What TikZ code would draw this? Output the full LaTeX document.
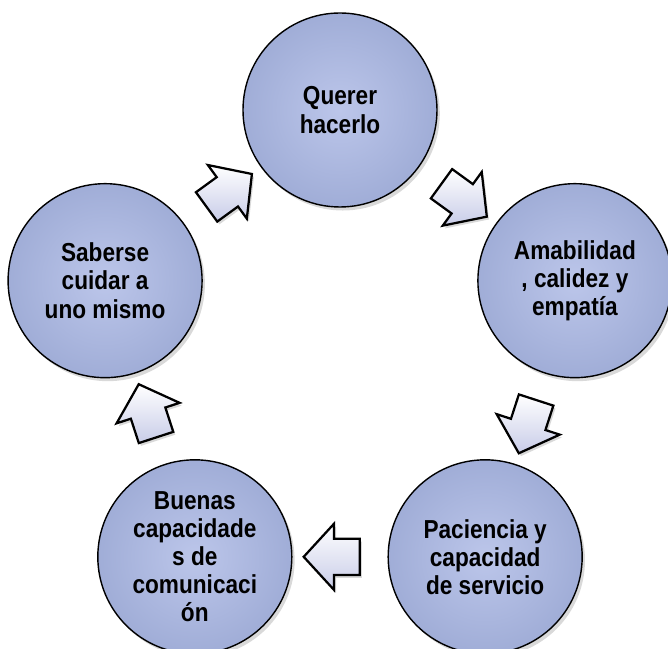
\documentclass[tikz,border=0pt]{standalone}
\usepackage{fontspec}
\setmainfont{Liberation Sans}[FakeStretch=0.87]
\usetikzlibrary{shapes.arrows,shadows}

\definecolor{ringin}{RGB}{188,198,234}
\definecolor{ringout}{RGB}{160,173,215}
\definecolor{turnfill}{RGB}{200,204,232}

\tikzset{
    ring/.style={circle, draw=black, line width=1pt, minimum size=4.85cm,
        inner sep=0pt, align=center,
        font=\bfseries\fontsize{18.5}{20}\selectfont,
        inner color=ringin, outer color=ringout,
        drop shadow={shadow xshift=2pt, shadow yshift=-2.5pt, opacity=0.3}},
    turn/.style={single arrow, draw=black, line width=1.6pt,
        minimum height=1.4cm, minimum width=1.6cm,
        text height=0.85cm, text depth=0pt,
        single arrow head extend=0.375cm, single arrow tip angle=95,
        inner sep=0pt, top color=white, bottom color=turnfill,
        drop shadow={shadow xshift=1.5pt, shadow yshift=-2pt, opacity=0.3}}
}

\begin{document}
\begin{tikzpicture}
        \useasboundingbox (-8.5,-7.3) rectangle (8.2,8.925);
        \clip (-8.5,-7.3) rectangle (8.2,8.925);
        % circles on a pentagon
        \node[ring] (querer) at (90:6.175) {Querer\\hacerlo};
        \node[ring] (amab) at (18:6.175) {Amabilidad\\, calidez y\\empatía};
        \node[ring] (paciencia) at (-54:6.175) {Paciencia y\\capacidad\\de servicio};
        \node[ring] (buenas) at (234:6.175) {Buenas\\capacidade\\s de\\comunicaci\\ón};
        \node[ring] (saberse) at (162:6.175) {Saberse\\cuidar a\\uno mismo};
        % block arrows between them
        \path (querer) -- node[turn, sloped, allow upside down] (t1) {} (amab);
        \path (amab) -- node[turn, sloped, allow upside down] (t2) {} (paciencia);
        \path (paciencia) -- node[turn, sloped, allow upside down] (t3) {} (buenas);
        \path (buenas) -- node[turn, sloped, allow upside down] (t4) {} (saberse);
        \path (saberse) -- node[turn, sloped, allow upside down] (t5) {} (querer);
    \end{tikzpicture}
\end{document}
